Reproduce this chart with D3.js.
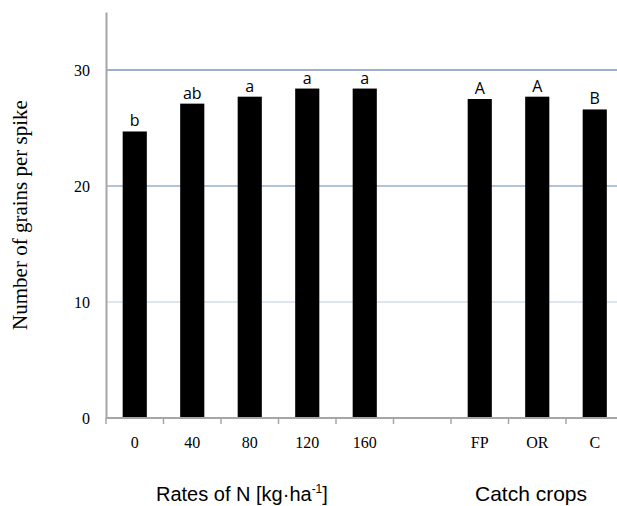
<!DOCTYPE html>
<html>
<head>
<meta charset="utf-8">
<script src="https://cdn.jsdelivr.net/npm/d3@7"></script>
<style>
	body{ margin:0; background:#fff; }
	svg{ display:block; }
</style>
</head>
<body>
<div id="chart"></div>
<script>

const categories = ["0", "40", "80", "120", "160", "", "FP", "OR", "C"];
const values = [24.7, 27.1, 27.7, 28.4, 28.4, null, 27.5, 27.7, 26.6];
const letters = ["b", "ab", "a", "a", "a", "", "A", "A", "B"];
const yTicks = [0, 10, 20, 30];
const gridColors = { 10: "#dde6f1", 20: "#b4c3db", 30: "#9dafcb" };

const width = 617, height = 506;
const margin = { left: 106, top: 12, bottom: 88 };

const svg = d3.select("#chart")
		.append("svg")
		.attr("width", width)
		.attr("height", height);

const x = d3.scaleBand()
		.domain(categories.map((d, i) => i))
		.range([margin.left, margin.left + 9 * 57.5])
		.paddingInner(0.58)
		.paddingOuter(0.29);

const y = d3.scaleLinear()
		.domain([0, 35])
		.range([height - margin.bottom, margin.top]);

// grid
svg.append("g")
	.selectAll("line")
	.data(yTicks.filter(d => d > 0))
	.join("line")
		.attr("x1", margin.left)
		.attr("x2", width)
		.attr("y1", d => y(d))
		.attr("y2", d => y(d))
		.attr("stroke", d => gridColors[d])
		.attr("stroke-width", 2);

// bars
const data = categories.map((c, i) => ({ i: i, c: c, v: values[i], l: letters[i] }))
		.filter(d => d.v != null);

svg.append("g")
	.selectAll("rect")
	.data(data)
	.join("rect")
		.attr("x", d => x(d.i))
		.attr("width", x.bandwidth())
		.attr("y", d => y(d.v))
		.attr("height", d => y(0) - y(d.v))
		.attr("fill", "#000");

svg.append("g")
	.selectAll("text")
	.data(data)
	.join("text")
		.attr("x", d => x(d.i) + x.bandwidth() / 2)
		.attr("y", d => y(d.v) - 5)
		.attr("text-anchor", "middle")
		.attr("font-family", "'Open Sans', 'Liberation Sans', sans-serif")
		.attr("font-size", 16)
		.attr("fill", "#000")
		.text(d => d.l);

// y axis
const yAxis = svg.append("g")
		.attr("transform", "translate(" + margin.left + ",0)")
		.call(d3.axisLeft(y).tickValues(yTicks).tickSize(0).tickPadding(16));

yAxis.select(".domain").attr("stroke", "#a6a6a6").attr("stroke-width", 2);
yAxis.selectAll("text")
		.attr("font-family", "'Liberation Serif', serif")
		.attr("font-size", 16)
		.attr("fill", "#000");

// x axis
const xAxis = svg.append("g")
		.attr("transform", "translate(0," + y(0) + ")");

xAxis.append("line")
		.attr("x1", margin.left)
		.attr("x2", width)
		.attr("stroke", "#a6a6a6")
		.attr("stroke-width", 2);

xAxis.selectAll(".tick")
	.data(d3.range(categories.length + 1))
	.join("line")
		.attr("class", "tick")
		.attr("x1", i => margin.left + i * 57.5)
		.attr("x2", i => margin.left + i * 57.5)
		.attr("y1", 0)
		.attr("y2", 6)
		.attr("stroke", "#a6a6a6")
		.attr("stroke-width", 1.5);

xAxis.selectAll("text")
	.data(categories.map((c, i) => ({ i: i, c: c })))
	.join("text")
		.attr("x", d => x(d.i) + x.bandwidth() / 2)
		.attr("y", 30)
		.attr("text-anchor", "middle")
		.attr("font-family", "'Liberation Serif', serif")
		.attr("font-size", 16)
		.attr("fill", "#000")
		.text(d => d.c);

// titles
svg.append("text")
		.attr("transform", "translate(27," + (y(0) + y(35)) / 2 + ") rotate(-90)")
		.attr("text-anchor", "middle")
		.attr("font-family", "'Liberation Serif', serif")
		.attr("font-size", 21)
		.attr("fill", "#000")
		.text("Number of grains per spike");

const xTitle = svg.append("text")
		.attr("x", 156)
		.attr("y", 501)
		.attr("font-family", "'Liberation Sans', Arial, sans-serif")
		.attr("font-size", 20)
		.attr("fill", "#000");
xTitle.append("tspan").text("Rates of N [kg·ha");
xTitle.append("tspan").attr("font-size", 12).attr("dy", -8).text("-1");
xTitle.append("tspan").attr("dy", 8).text("]");

svg.append("text")
		.attr("x", 531)
		.attr("y", 501)
		.attr("text-anchor", "middle")
		.attr("font-family", "'Liberation Sans', Arial, sans-serif")
		.attr("font-size", 21)
		.attr("fill", "#000")
		.text("Catch crops");

</script>
</body>
</html>
